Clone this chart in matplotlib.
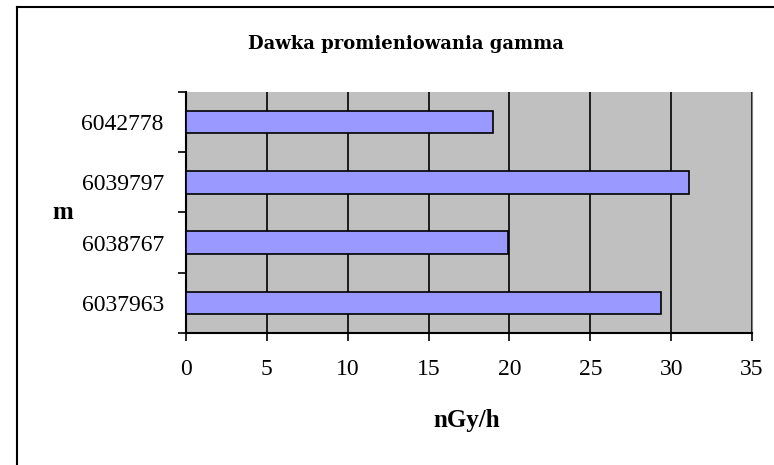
import matplotlib
matplotlib.use("Agg")
import matplotlib.pyplot as plt
from matplotlib.lines import Line2D

# Dane (od dołu do góry)
kategorie = ["6037963", "6038767", "6039797", "6042778"]
dawki = [29.4, 19.9, 31.1, 19.0]
x_ticks = [0, 5, 10, 15, 20, 25, 30, 35]

plt.rcParams["font.family"] = "Liberation Serif"

fig = plt.figure(figsize=(7.74, 4.65), dpi=100)
ax = fig.add_axes([186 / 774, 1 - 333 / 465, (752 - 186) / 774, (333 - 92) / 465])

ax.set_facecolor("#C0C0C0")
pozycje = list(range(len(kategorie)))
ax.barh(pozycje, dawki, height=0.37, color="#9999FF", edgecolor="black", linewidth=1.2, zorder=3)

ax.set_xlim(0, 35)
ax.set_ylim(-0.5, len(kategorie) - 0.5)
ax.set_xticks(x_ticks)
ax.set_xticklabels([str(t) for t in x_ticks], fontsize=17)
ax.set_yticks(pozycje)
ax.set_yticklabels(kategorie, fontsize=17)
ax.set_yticks([p - 0.5 for p in range(len(kategorie) + 1)], minor=True)

ax.tick_params(axis="y", which="major", length=0, pad=16)
ax.tick_params(axis="y", which="minor", length=6, width=1.2, direction="out")
ax.tick_params(axis="x", length=6, width=1.2, direction="out", pad=13)

ax.grid(axis="x", color="black", linewidth=1.2, zorder=1)
ax.set_axisbelow(True)

ax.spines["top"].set_visible(False)
ax.spines["right"].set_color("#808080")
ax.spines["left"].set_linewidth(1.5)
ax.spines["bottom"].set_linewidth(1.5)

# Tytuł i opisy osi
fig.text(406 / 774, 1 - 44 / 465, "Dawka promieniowania gamma", ha="center", va="center",
         fontsize=13, fontweight="bold", family="DejaVu Serif")
fig.text(467 / 774, 1 - 420 / 465, "nGy/h", ha="center", va="center", fontsize=18, fontweight="bold")
fig.text(63 / 774, 1 - 212 / 465, "m", ha="center", va="center", fontsize=18, fontweight="bold")

# Ramka wykresu
fig.add_artist(Line2D([17 / 774, 17 / 774], [0, 1 - 7 / 465], color="black", linewidth=1.5))
fig.add_artist(Line2D([17 / 774, 1], [1 - 7 / 465, 1 - 7 / 465], color="black", linewidth=1.5))

fig.savefig("out.png", dpi=100)
